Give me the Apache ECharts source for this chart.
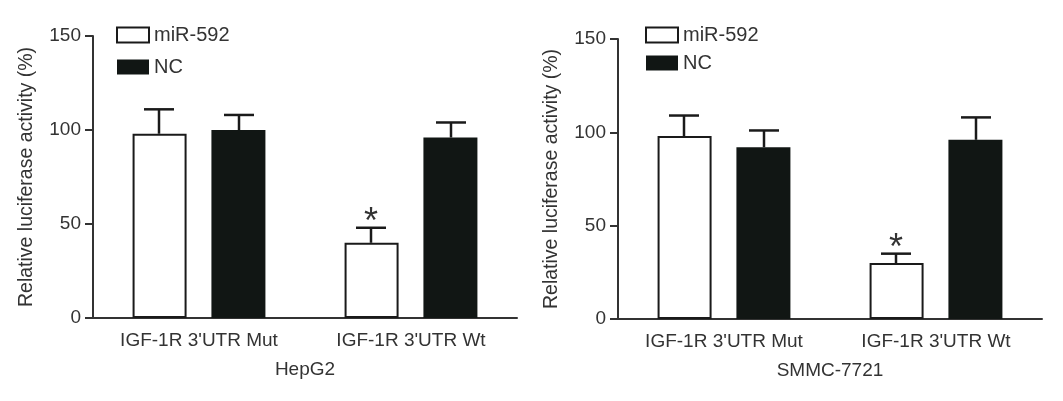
<!DOCTYPE html>
<html>
<head>
<meta charset="utf-8">
<script src="https://cdn.jsdelivr.net/npm/echarts@6/dist/echarts.min.js"></script>
<style>
  html, body { margin: 0; padding: 0; background: #fff; }
  #chart { width: 1063px; height: 401px; }
</style>
</head>
<body>
<div id="chart"></div>
<script>
// data
var categories = ["IGF-1R 3'UTR Mut", "IGF-1R 3'UTR Wt"];
var panels = ['HepG2', 'SMMC-7721'];
var yTicks = [0, 50, 100, 150];

var hepMir = [98, 40];
var hepMirSd = [13, 8];
var hepNc = [100, 96];
var hepNcSd = [8, 8];

var smmcMir = [98, 30];
var smmcMirSd = [11, 5];
var smmcNc = [92, 96];
var smmcNcSd = [9, 12];

var starMir = [false, true]; // * over miR-592 in Wt group

var font = 'Liberation Sans, Arial, sans-serif';
var txt = '#333';
var ink = '#1a1a1a';

var myChart = echarts.init(document.getElementById('chart'));

// error bar (upper only) + star, offset from category centre
function errSeries(name, idx, means, sds, offset, stars) {
  var rows = means.map(function (m, i) { return [i, m, m + sds[i], stars && stars[i] ? 1 : 0]; });
  return {
    name: name,
    type: 'custom',
    xAxisIndex: idx,
    yAxisIndex: idx,
    data: rows,
    z: 5,
    silent: true,
    renderItem: function (params, api) {
      var base = api.coord([api.value(0), api.value(1)]);
      var top = api.coord([api.value(0), api.value(2)]);
      var x = base[0] + offset;
      var kids = [
        { type: 'line', shape: { x1: x, y1: base[1], x2: x, y2: top[1] }, style: { stroke: ink, lineWidth: 2.5 } },
        { type: 'line', shape: { x1: x - 15, y1: top[1], x2: x + 15, y2: top[1] }, style: { stroke: ink, lineWidth: 2.5 } }
      ];
      if (api.value(3)) {
        kids.push({ type: 'text', x: x, y: top[1] - 5, style: { text: '*', fontSize: 36, fontFamily: font, fill: '#333', align: 'center', verticalAlign: 'middle' } });
      }
      return { type: 'group', children: kids };
    }
  };
}

var grids = [
  { left: 93, top: 36, width: 424, height: 282 },
  { left: 618, top: 39, width: 424, height: 280 }
];

var option = {
  animation: false,
  textStyle: { fontFamily: font },
  grid: grids,
  legend: [
    { data: ['miR-592', 'NC'], orient: 'vertical', left: 116, top: 25, itemWidth: 32, itemHeight: 15, itemGap: 12, padding: 0,
      icon: 'rect', textStyle: { fontSize: 20, color: txt, fontFamily: font } },
    { data: ['miR-592', 'NC'], orient: 'vertical', left: 645, top: 25, itemWidth: 32, itemHeight: 15, itemGap: 8, padding: 0,
      icon: 'rect', textStyle: { fontSize: 20, color: txt, fontFamily: font } }
  ],
  xAxis: [0, 1].map(function (i) {
    return {
      type: 'category', gridIndex: i, data: categories,
      name: panels[i], nameLocation: 'middle', nameGap: 42,
      nameTextStyle: { fontSize: 19, color: txt },
      axisLine: { lineStyle: { color: '#333', width: 2 } },
      axisTick: { alignWithLabel: true, length: 6, lineStyle: { color: '#333', width: 2 } },
      axisLabel: { fontSize: 19, color: txt, margin: 13 }
    };
  }),
  yAxis: [0, 1].map(function (i) {
    return {
      type: 'value', gridIndex: i, min: yTicks[0], max: yTicks[yTicks.length - 1], interval: 50,
      name: 'Relative luciferase activity (%)', nameLocation: 'middle', nameGap: 56,
      nameTextStyle: { fontSize: 19.5, color: txt },
      splitLine: { show: false },
      axisLine: { show: true, lineStyle: { color: '#333', width: 2 } },
      axisTick: { show: true, length: 8, lineStyle: { color: '#333', width: 2 } },
      axisLabel: { fontSize: 19, color: txt, margin: 12 }
    };
  }),
  series: [
    { name: 'miR-592', type: 'bar', xAxisIndex: 0, yAxisIndex: 0, data: hepMir, barWidth: 54, barGap: '46%',
      itemStyle: { color: '#fff', borderColor: ink, borderWidth: 2 } },
    { name: 'NC', type: 'bar', xAxisIndex: 0, yAxisIndex: 0, data: hepNc, barWidth: 54,
      itemStyle: { color: '#111614' } },
    errSeries('miR-592', 0, hepMir, hepMirSd, -40, starMir),
    errSeries('NC', 0, hepNc, hepNcSd, 40, null),
    { name: 'miR-592', type: 'bar', xAxisIndex: 1, yAxisIndex: 1, data: smmcMir, barWidth: 54, barGap: '46%',
      itemStyle: { color: '#fff', borderColor: ink, borderWidth: 2 } },
    { name: 'NC', type: 'bar', xAxisIndex: 1, yAxisIndex: 1, data: smmcNc, barWidth: 54,
      itemStyle: { color: '#111614' } },
    errSeries('miR-592', 1, smmcMir, smmcMirSd, -40, starMir),
    errSeries('NC', 1, smmcNc, smmcNcSd, 40, null)
  ]
};

myChart.setOption(option);
</script>
</body>
</html>
